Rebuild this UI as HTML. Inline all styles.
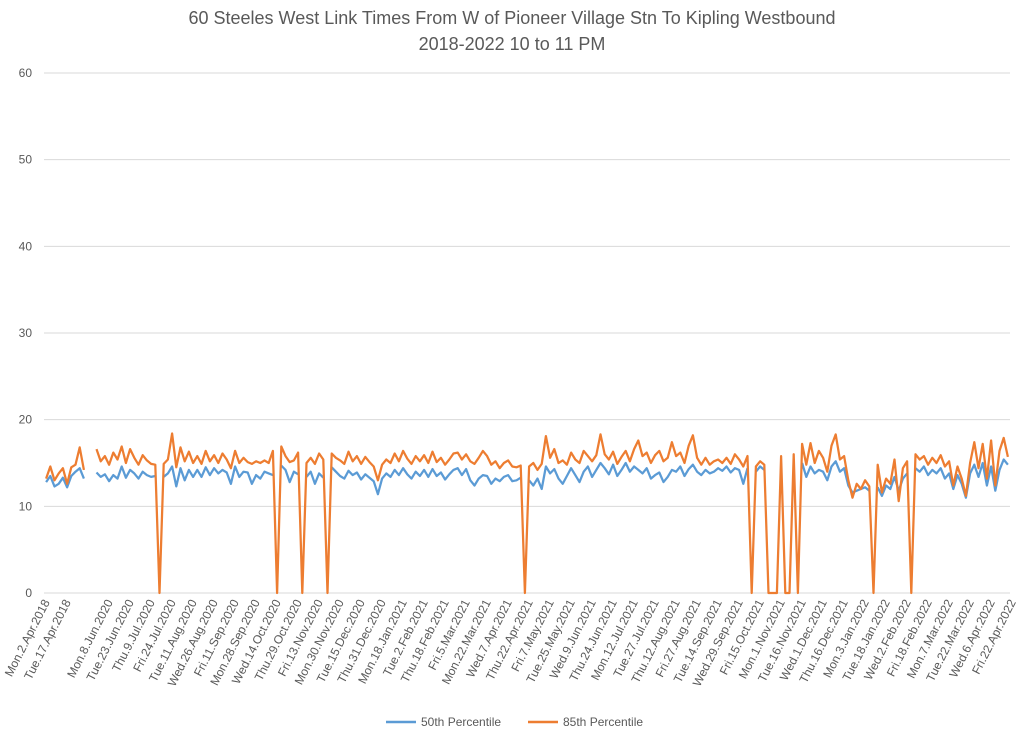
<!DOCTYPE html>
<html><head><meta charset="utf-8"><style>
body{margin:0;background:#fff;}
svg{display:block;font-family:"Liberation Sans",sans-serif;}
</style></head><body>
<svg id="chart" width="1024" height="743">
<text x="512" y="24" text-anchor="middle" font-size="18" fill="#595959">60 Steeles West Link Times From W of Pioneer Village Stn To Kipling Westbound</text>
<text x="512" y="50" text-anchor="middle" font-size="18" fill="#595959">2018-2022 10 to 11 PM</text>
<g id="grid"></g><g id="xlabels"></g><g id="series"></g>
<g>
<line x1="386" y1="722" x2="416" y2="722" stroke="#5b9bd5" stroke-width="2.5"/>
<text x="421" y="726" font-size="12" fill="#595959">50th Percentile</text>
<line x1="528" y1="722" x2="558" y2="722" stroke="#ed7d31" stroke-width="2.5"/>
<text x="563" y="726" font-size="12" fill="#595959">85th Percentile</text>
</g>
</svg>
<script>
const yTicks=[0,10,20,30,40,50,60];
const xLabels=["Mon.2.Apr.2018","Tue.17.Apr.2018","","Mon.8.Jun.2020","Tue.23.Jun.2020","Thu.9.Jul.2020","Fri.24.Jul.2020","Tue.11.Aug.2020","Wed.26.Aug.2020","Fri.11.Sep.2020","Mon.28.Sep.2020","Wed.14.Oct.2020","Thu.29.Oct.2020","Fri.13.Nov.2020","Mon.30.Nov.2020","Tue.15.Dec.2020","Thu.31.Dec.2020","Mon.18.Jan.2021","Tue.2.Feb.2021","Thu.18.Feb.2021","Fri.5.Mar.2021","Mon.22.Mar.2021","Wed.7.Apr.2021","Thu.22.Apr.2021","Fri.7.May.2021","Tue.25.May.2021","Wed.9.Jun.2021","Thu.24.Jun.2021","Mon.12.Jul.2021","Tue.27.Jul.2021","Thu.12.Aug.2021","Fri.27.Aug.2021","Tue.14.Sep.2021","Wed.29.Sep.2021","Fri.15.Oct.2021","Mon.1.Nov.2021","Tue.16.Nov.2021","Wed.1.Dec.2021","Thu.16.Dec.2021","Mon.3.Jan.2022","Tue.18.Jan.2022","Wed.2.Feb.2022","Fri.18.Feb.2022","Mon.7.Mar.2022","Tue.22.Mar.2022","Wed.6.Apr.2022","Fri.22.Apr.2022"];
const p85=[13.2,14.6,13.0,13.8,14.4,12.6,14.5,14.8,16.8,14.2,null,null,
16.6,15.2,15.8,14.8,16.2,15.4,16.9,15.0,16.6,15.6,14.8,15.9,15.3,14.9,14.8,0,
14.9,15.4,18.4,14.5,16.8,15.2,16.3,15.0,15.8,14.9,16.4,15.2,15.9,15.0,16.1,15.4,14.4,16.4,15.0,15.6,15.1,14.9,15.2,15.0,15.3,15.0,16.4,0,
16.9,15.8,15.1,15.3,16.2,0,15.0,15.6,14.9,16.1,15.4,0,
16.1,15.6,15.3,14.9,16.3,15.2,15.8,14.9,15.7,15.1,14.6,13.0,14.8,15.4,15.0,16.1,15.2,16.4,15.5,14.9,15.8,15.2,15.9,15.0,16.3,15.1,15.6,14.8,15.4,16.1,16.2,15.4,16.0,15.2,14.9,15.6,16.4,15.8,14.8,15.2,14.4,15.0,15.3,14.6,14.5,14.7,0,
14.6,15.0,14.2,14.9,18.1,15.6,16.6,15.0,15.3,14.8,16.2,15.4,15.0,16.4,15.8,15.2,15.9,18.3,16.0,15.4,16.3,14.9,15.7,16.4,15.2,16.6,17.6,15.8,16.2,15.0,15.9,16.4,15.2,15.6,17.4,15.8,16.2,15.0,17.0,18.2,15.6,14.8,15.6,14.8,15.2,15.4,15.0,15.6,14.9,16.0,15.4,14.6,15.8,0,
14.6,15.2,14.8,0,0,0,15.8,0,0,16.0,0,
17.2,14.8,17.3,15.0,16.4,15.6,14.0,17.0,18.3,15.4,15.8,13.0,11.0,12.6,12.0,13.0,12.3,0,
14.8,11.6,13.2,12.6,15.4,10.6,14.4,15.2,0,
16.0,15.4,15.8,14.8,15.6,15.0,15.9,14.6,15.2,12.4,14.6,13.2,11.2,15.0,17.4,14.4,17.2,13.2,17.6,12.4,16.4,17.9,15.7];
const p50=[12.8,13.5,12.3,12.6,13.3,12.2,13.5,14.0,14.4,13.2,null,null,
13.9,13.4,13.7,12.9,13.6,13.2,14.6,13.3,14.2,13.8,13.2,14.0,13.6,13.4,13.5,null,
13.4,13.8,14.6,12.3,14.4,13.0,14.2,13.4,14.2,13.4,14.5,13.6,14.4,13.8,14.2,13.9,12.6,14.6,13.4,14.0,13.9,12.6,13.6,13.2,14.0,13.8,13.6,null,
14.7,14.2,12.8,14.0,13.7,null,13.4,14.0,12.6,13.8,13.3,null,
14.5,14.0,13.5,13.2,14.1,13.6,13.9,13.1,13.7,13.3,12.9,11.4,13.2,13.8,13.4,14.2,13.6,14.4,13.7,13.2,14.0,13.5,14.2,13.4,14.3,13.5,13.9,13.1,13.7,14.2,14.4,13.6,14.3,13.0,12.4,13.2,13.6,13.5,12.6,13.2,12.9,13.4,13.6,12.9,13.0,13.3,null,
13.0,12.4,13.2,12.0,14.6,13.8,14.3,13.2,12.6,13.5,14.4,13.6,12.8,14.0,14.6,13.4,14.2,15.0,14.4,13.7,14.8,13.5,14.2,15.0,14.0,14.6,14.2,13.8,14.4,13.2,13.6,13.9,12.8,13.4,14.2,14.0,14.6,13.5,14.3,14.8,14.0,13.6,14.2,13.8,14.0,14.4,14.1,14.6,13.9,14.4,14.2,12.6,14.4,null,
14.0,14.6,14.2,null,null,null,13.6,null,null,14.0,null,
15.0,13.4,14.6,13.8,14.2,14.0,13.0,14.6,15.2,14.0,14.4,12.4,11.6,11.8,12.0,12.2,11.8,null,
12.2,11.2,12.4,12.0,13.4,11.8,13.2,13.8,null,
14.4,14.0,14.6,13.6,14.2,13.8,14.4,13.2,13.8,12.0,13.6,12.6,11.0,13.8,14.8,13.4,15.0,12.4,14.6,11.8,14.2,15.4,14.8];
const X0=44,X1=1010,Y0=593,Y60=73,N=230,LSTEP=5;
const xs=i=>X0+(i+0.5)*(X1-X0)/N;
const ys=v=>Y0-(v/60)*(Y0-Y60);
const NS="http://www.w3.org/2000/svg";
const grid=document.getElementById('grid');
yTicks.forEach(t=>{
 const l=document.createElementNS(NS,'line');
 l.setAttribute('x1',X0);l.setAttribute('x2',X1);l.setAttribute('y1',ys(t));l.setAttribute('y2',ys(t));
 l.setAttribute('stroke','#d9d9d9');l.setAttribute('stroke-width','1');
 
 
 grid.appendChild(l);
 const tx=document.createElementNS(NS,'text');
 tx.setAttribute('x',32);tx.setAttribute('y',ys(t)+4);tx.setAttribute('text-anchor','end');
 tx.setAttribute('font-size','12');tx.setAttribute('fill','#595959');tx.textContent=t;
 
 
 grid.appendChild(tx);
});
const xl=document.getElementById('xlabels');
xLabels.forEach((lab,k)=>{
 if(!lab)return;
 const x=xs(k*LSTEP);
 const tx=document.createElementNS(NS,'text');
 tx.setAttribute('transform','translate('+(x+4)+',602) rotate(-63)');
 tx.setAttribute('text-anchor','end');tx.setAttribute('font-size','12');tx.setAttribute('fill','#595959');
 tx.textContent=lab;
 
 
 xl.appendChild(tx);
});
function draw(arr,color,name){
 let d='',pen=false;
 arr.forEach((v,i)=>{
  if(v===null||v===undefined){pen=false;return;}
  d+=(pen?'L':'M')+xs(i).toFixed(1)+' '+ys(v).toFixed(1);pen=true;
 });
 const p=document.createElementNS(NS,'path');
 p.setAttribute('d',d);p.setAttribute('fill','none');p.setAttribute('stroke',color);
 p.setAttribute('stroke-width','2.25');p.setAttribute('stroke-linejoin','round');
 
 
 document.getElementById('series').appendChild(p);
}
draw(p50,'#5b9bd5','series-50th-percentile');
draw(p85,'#ed7d31','series-85th-percentile');
</script>
</body></html>
